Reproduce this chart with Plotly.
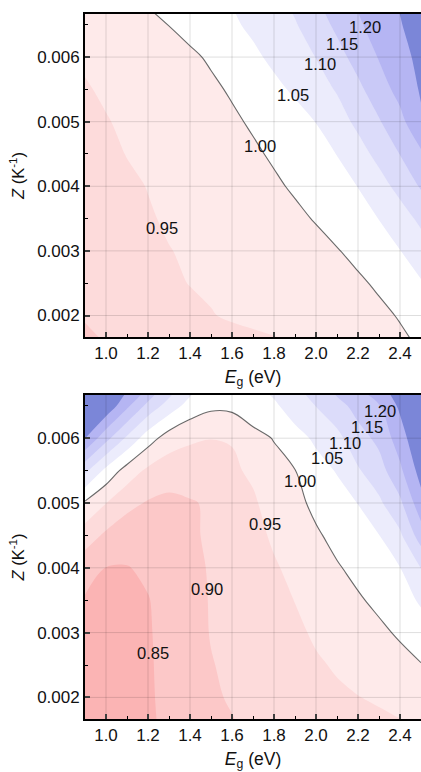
import plotly.graph_objects as go

# ---- data ----
EG = [0.9, 1.0, 1.1, 1.2, 1.3, 1.4, 1.5, 1.6, 1.7, 1.8, 1.9, 2.0, 2.1, 2.2, 2.3, 2.4, 2.5]
ZV = [0.0015, 0.002, 0.0025, 0.003, 0.0035, 0.004, 0.0045, 0.005, 0.0055, 0.006, 0.0065, 0.007]

# top panel: rows follow ZV, columns follow EG
Z_TOP = [
    [0.893, 0.899, 0.905, 0.910, 0.915, 0.920, 0.925, 0.931, 0.936, 0.941, 0.947, 0.953, 0.961, 0.970, 0.980, 0.990, 1.003],
    [0.902, 0.909, 0.917, 0.925, 0.933, 0.941, 0.948, 0.955, 0.960, 0.965, 0.969, 0.974, 0.979, 0.985, 0.991, 1.003, 1.020],
    [0.912, 0.920, 0.928, 0.936, 0.944, 0.951, 0.956, 0.960, 0.964, 0.968, 0.972, 0.976, 0.982, 0.994, 1.006, 1.027, 1.046],
    [0.924, 0.930, 0.937, 0.943, 0.949, 0.954, 0.958, 0.963, 0.967, 0.972, 0.978, 0.986, 0.998, 1.010, 1.028, 1.049, 1.076],
    [0.926, 0.934, 0.941, 0.947, 0.954, 0.960, 0.966, 0.972, 0.978, 0.985, 0.991, 1.003, 1.015, 1.031, 1.051, 1.078, 1.111],
    [0.929, 0.937, 0.944, 0.951, 0.958, 0.965, 0.972, 0.980, 0.987, 0.9935, 1.0055, 1.0175, 1.033, 1.051, 1.081, 1.115, 1.155],
    [0.934, 0.942, 0.951, 0.958, 0.965, 0.973, 0.980, 0.987, 0.9936, 1.0056, 1.018, 1.033, 1.051, 1.081, 1.114, 1.151, 1.192],
    [0.940, 0.948, 0.956, 0.963, 0.969, 0.976, 0.983, 0.9933, 1.0053, 1.017, 1.033, 1.051, 1.079, 1.111, 1.146, 1.185, 1.243],
    [0.947, 0.955, 0.962, 0.968, 0.975, 0.981, 0.9927, 1.0047, 1.021, 1.039, 1.057, 1.080, 1.104, 1.139, 1.177, 1.217, 1.255],
    [0.955, 0.962, 0.969, 0.975, 0.981, 0.9932, 1.0052, 1.020, 1.041, 1.060, 1.080, 1.101, 1.133, 1.168, 1.203, 1.234, 1.263],
    [0.964, 0.972, 0.980, 0.9888, 1.0008, 1.0128, 1.025, 1.043, 1.059, 1.078, 1.096, 1.127, 1.160, 1.193, 1.221, 1.247, 1.273],
    [0.977, 0.988, 0.9976, 1.0096, 1.020, 1.031, 1.043, 1.055, 1.073, 1.091, 1.117, 1.151, 1.183, 1.211, 1.234, 1.257, 1.280],
]

# bottom panel: listed column by column (one list per EG value, along ZV)
Z_BOT_COLS = [
    [0.820, 0.827, 0.834, 0.840, 0.846, 0.870, 0.925, 0.993, 1.112, 1.251, 1.350, 1.450],
    [0.818, 0.824, 0.830, 0.836, 0.842, 0.849, 0.891, 0.951, 1.037, 1.166, 1.290, 1.400],
    [0.815, 0.821, 0.827, 0.834, 0.841, 0.848, 0.873, 0.913, 0.979, 1.091, 1.211, 1.300],
    [0.842, 0.844, 0.845, 0.846, 0.848, 0.858, 0.877, 0.896, 0.940, 1.023, 1.135, 1.251],
    [0.860, 0.862, 0.863, 0.865, 0.867, 0.870, 0.878, 0.890, 0.921, 0.976, 1.078, 1.170],
    [0.880, 0.883, 0.885, 0.887, 0.889, 0.891, 0.894, 0.897, 0.920, 0.958, 1.030, 1.101],
    [0.893, 0.897, 0.8985, 0.9015, 0.902, 0.903, 0.906, 0.9045, 0.927, 0.951, 1.010, 1.060],
    [0.898, 0.902, 0.906, 0.910, 0.915, 0.920, 0.926, 0.933, 0.942, 0.953, 1.012, 1.049],
    [0.904, 0.908, 0.912, 0.917, 0.922, 0.928, 0.935, 0.943, 0.9585, 0.987, 1.024, 1.060],
    [0.908, 0.914, 0.920, 0.928, 0.936, 0.945, 0.957, 0.972, 0.986, 1.002, 1.042, 1.080],
    [0.915, 0.922, 0.930, 0.940, 0.951, 0.962, 0.975, 0.987, 0.999, 1.033, 1.073, 1.110],
    [0.925, 0.934, 0.944, 0.957, 0.969, 0.982, 0.994, 1.011, 1.033, 1.058, 1.101, 1.151],
    [0.932, 0.942, 0.955, 0.968, 0.982, 0.996, 1.013, 1.032, 1.053, 1.087, 1.130, 1.201],
    [0.935, 0.949, 0.964, 0.979, 0.995, 1.012, 1.031, 1.051, 1.095, 1.129, 1.170, 1.225],
    [0.938, 0.955, 0.973, 0.991, 1.010, 1.030, 1.049, 1.091, 1.129, 1.163, 1.197, 1.260],
    [0.943, 0.963, 0.985, 1.006, 1.028, 1.049, 1.091, 1.140, 1.190, 1.225, 1.260, 1.300],
    [0.949, 0.974, 0.998, 1.026, 1.057, 1.101, 1.175, 1.232, 1.270, 1.300, 1.330, 1.360],
]

LEVEL_START, LEVEL_END, LEVEL_STEP = 0.85, 1.25, 0.05
BAND_COLORS = ["#fbb4b4", "#fcc8c8", "#fddbdb", "#feeaea", "#ffffff",
               "#ececfc", "#dcdcfa", "#c9c9f7", "#b5b5f3", "#7b86d8"]

# contour labels (text, x, y)
TOP_LABELS = [("0.95", 1.265, 0.00336), ("1.00", 1.733, 0.00463), ("1.05", 1.892, 0.00541),
              ("1.10", 2.019, 0.00589), ("1.15", 2.122, 0.00620), ("1.20", 2.233, 0.00647)]
BOT_LABELS = [("0.85", 1.226, 0.00268), ("0.90", 1.479, 0.00368), ("0.95", 1.757, 0.00468),
              ("1.00", 1.924, 0.00534), ("1.05", 2.051, 0.00569), ("1.10", 2.138, 0.00592),
              ("1.15", 2.241, 0.00617), ("1.20", 2.305, 0.00642)]

X_TICKS = [1.0, 1.2, 1.4, 1.6, 1.8, 2.0, 2.2, 2.4]
Y_TICKS = [0.002, 0.003, 0.004, 0.005, 0.006]
X_RANGE = [0.9, 2.5]
Y_RANGE = [1 / 600, 1 / 150]

# ---- build ----
Z_BOT = [[Z_BOT_COLS[j][i] for j in range(len(EG))] for i in range(len(ZV))]
n = len(BAND_COLORS)
cscale = [[k / (n - 1), c] for k, c in enumerate(BAND_COLORS)]
FONT = "Liberation Sans, Arial, sans-serif"
SMOOTH = 1.0

fig = go.Figure()
for z, xa, ya in [(Z_TOP, "x", "y"), (Z_BOT, "x2", "y2")]:
    fig.add_trace(go.Contour(
        x=EG, y=ZV, z=z, xaxis=xa, yaxis=ya,
        colorscale=cscale, showscale=False, hoverinfo="skip",
        contours=dict(start=LEVEL_START, end=LEVEL_END, size=LEVEL_STEP, coloring="fill"),
        line=dict(width=0, smoothing=SMOOTH),
    ))
    fig.add_trace(go.Contour(
        x=EG, y=ZV, z=z, xaxis=xa, yaxis=ya, showscale=False, hoverinfo="skip",
        contours=dict(start=1.0, end=1.0, size=LEVEL_STEP, coloring="none"),
        line=dict(width=1.1, color="#6a6a6a", smoothing=SMOOTH),
    ))

annotations = []
for labels, xr, yr in [(TOP_LABELS, "x", "y"), (BOT_LABELS, "x2", "y2")]:
    for t, lx, ly in labels:
        annotations.append(dict(text=t, x=lx, y=ly, xref=xr, yref=yr, showarrow=False,
                                font=dict(family=FONT, size=16.5, color="#111")))

shapes = []
for xr, yr in [("x", "y"), ("x2", "y2")]:
    for tv in X_TICKS:
        shapes.append(dict(type="line", xref=xr, yref=yr + " domain", x0=tv, x1=tv, y0=0, y1=1,
                           line=dict(color="rgba(0,0,0,0.13)", width=1), layer="above"))
    for tv in Y_TICKS:
        shapes.append(dict(type="line", xref=xr + " domain", yref=yr, x0=0, x1=1, y0=tv, y1=tv,
                           line=dict(color="rgba(0,0,0,0.13)", width=1), layer="above"))

def xaxis(dom_anchor):
    return dict(range=X_RANGE, tickvals=X_TICKS, tickformat=".1f", ticks="inside", ticklen=5,
                tickwidth=1.5, linecolor="black", linewidth=1.8, mirror=True, showgrid=False,
                zeroline=False, layer="above traces", anchor=dom_anchor,
                tickfont=dict(family=FONT, size=17, color="#111"),
                minor=dict(dtick=0.1, ticks="inside", ticklen=3, tickwidth=1.2, tickcolor="black"),
                title=dict(text="<i>E</i><sub>g</sub> (eV)", font=dict(family=FONT, size=17.5, color="#111"),
                           standoff=8))

def yaxis(dom, anchor):
    return dict(range=Y_RANGE, domain=dom, tickvals=Y_TICKS, tickformat=".3f", ticks="inside",
                ticklen=5, tickwidth=1.5, linecolor="black", linewidth=1.8, showgrid=False,
                zeroline=False, layer="above traces", anchor=anchor,
                tickfont=dict(family=FONT, size=17, color="#111"),
                minor=dict(dtick=0.0005, ticks="inside", ticklen=3, tickwidth=1.2, tickcolor="black"),
                title=dict(text="<i>Z</i> (K<sup>-1</sup>)", font=dict(family=FONT, size=16.5, color="#111"),
                           standoff=8))

fig.update_layout(
    width=421, height=772,
    margin=dict(l=85, r=0, t=14, b=53),
    paper_bgcolor="white", plot_bgcolor="white",
    showlegend=False,
    xaxis=xaxis("y"), yaxis=yaxis([0.5418, 1.0], "x"),
    xaxis2=xaxis("y2"), yaxis2=yaxis([0.0, 0.4596], "x2"),
    annotations=annotations, shapes=shapes,
)

fig.write_html("out.html", config={"displayModeBar": False},
               post_script="document.body.style.margin='0';document.body.style.overflow='hidden';")
